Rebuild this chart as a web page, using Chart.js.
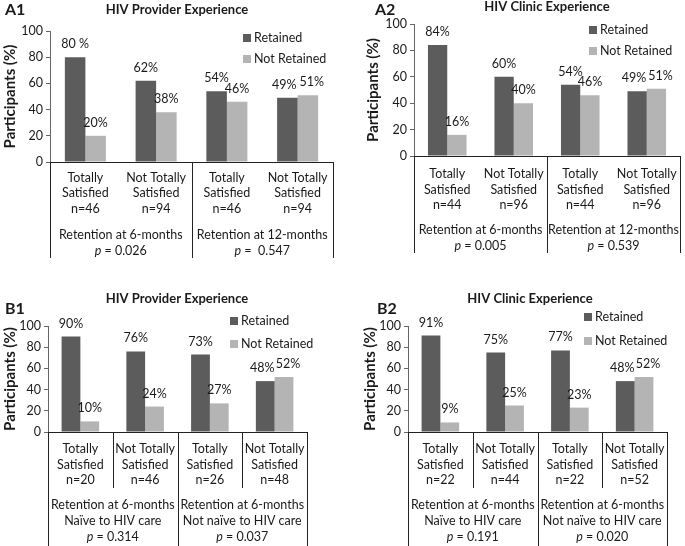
<!DOCTYPE html>
<html>
<head>
<meta charset="utf-8">
<script src="https://cdn.jsdelivr.net/npm/chart.js@4/dist/chart.umd.min.js"></script>
<style>
  body { margin: 0; background: #fff; width: 685px; height: 546px; position: relative; overflow: hidden; }
  canvas { position: absolute; }
</style>
</head>
<body>
<canvas id="a1" width="340" height="262" style="left:0;top:0"></canvas>
<canvas id="a2" width="345" height="262" style="left:340px;top:0"></canvas>
<canvas id="b1" width="340" height="276" style="left:0;top:270px"></canvas>
<canvas id="b2" width="345" height="276" style="left:340px;top:270px"></canvas>
<script>
// categorias y datos de cada panel
const categories = [['Totally', 'Satisfied'], ['Not Totally', 'Satisfied'], ['Totally', 'Satisfied'], ['Not Totally', 'Satisfied']];
const seriesNames = ['Retained', 'Not Retained'];
const yTicks = [0, 20, 40, 60, 80, 100];

const a1Retained = [80, 62, 54, 49];
const a1NotRetained = [20, 38, 46, 51];
const a1N = [46, 94, 46, 94];
const a1Groups = [['Retention at 6-months'], ['Retention at 12-months']];
const a1P = ['0.026', ' 0.547'];

const a2Retained = [84, 60, 54, 49];
const a2NotRetained = [16, 40, 46, 51];
const a2N = [44, 96, 44, 96];
const a2Groups = [['Retention at 6-months'], ['Retention at 12-months']];
const a2P = ['0.005', '0.539'];

const b1Retained = [90, 76, 73, 48];
const b1NotRetained = [10, 24, 27, 52];
const b1N = [20, 46, 26, 48];
const b1Groups = [['Retention at 6-months', 'Naïve to HIV care'], ['Retention at 6-months', 'Not naïve to HIV care']];
const b1P = ['0.314', '0.037'];

const b2Retained = [91, 75, 77, 48];
const b2NotRetained = [9, 25, 23, 52];
const b2N = [22, 44, 22, 52];
const b2Groups = [['Retention at 6-months', 'Naïve to HIV care'], ['Retention at 6-months', 'Not naïve to HIV care']];
const b2P = ['0.191', '0.020'];

const FONT = 'Lato';
const TEXT = '#1a1a1a';
const SIZE = 12.5;
const colors = ['#5c5c5c', '#b4b4b4'];

function drawPanel(id, p) {
    const canvas = document.getElementById(id);
    const W = canvas.width, H = canvas.height;

    const panelPlugin = {
        id: 'panel',
        afterDraw(chart) {
            const ctx = chart.ctx;
            const area = chart.chartArea;
            const xs = chart.scales.x;
            const normal = SIZE + 'px ' + FONT;
            ctx.save();
            ctx.fillStyle = TEXT;

            // titulo y letra del panel
            ctx.textBaseline = 'middle';
            ctx.textAlign = 'center';
            ctx.font = 'bold 13px ' + FONT;
            ctx.fillText(p.title, p.titleX, p.titleY);
            ctx.textAlign = 'left';
            ctx.font = 'bold 16px ' + FONT;
            ctx.fillText(p.tag, p.tagX, p.tagY);

            // leyenda
            ctx.font = normal;
            chart.data.datasets.forEach((ds, i) => {
                ctx.fillStyle = ds.backgroundColor;
                ctx.fillRect(p.legX, p.legY[i] - 4, 8, 8);
                ctx.fillStyle = TEXT;
                ctx.fillText(ds.label, p.legX + 11, p.legY[i]);
            });

            // etiquetas de porcentaje (las dos ultimas se separan un poco)
            ctx.textAlign = 'center';
            chart.data.datasets.forEach((ds, d) => {
                chart.getDatasetMeta(d).data.forEach((bar, i) => {
                    let txt = ds.data[i] + '%';
                    if (p.labelFix && p.labelFix[d] && p.labelFix[d][i]) txt = p.labelFix[d][i];
                    const dx = i === 3 ? (d === 0 ? -3 : 4) : 0;
                    ctx.fillText(txt, bar.x + dx, bar.y - 13);
                });
            });

            // tabla bajo el eje
            const mid = i => (xs.getPixelForValue(i) + xs.getPixelForValue(i + 1)) / 2;
            ctx.strokeStyle = '#222';
            ctx.lineWidth = 1;
            ctx.beginPath();
            ctx.moveTo(area.left, area.bottom + 0.5);
            ctx.lineTo(area.right, area.bottom + 0.5);
            [area.left, mid(1), area.right].forEach(x => {
                ctx.moveTo(Math.round(x) + 0.5, area.bottom);
                ctx.lineTo(Math.round(x) + 0.5, p.tableBottom);
            });
            if (p.innerBottom) {
                [mid(0), mid(2)].forEach(x => {
                    ctx.moveTo(Math.round(x) + 0.5, area.bottom);
                    ctx.lineTo(Math.round(x) + 0.5, p.innerBottom);
                });
            }
            ctx.stroke();

            ctx.font = normal;
            chart.data.labels.forEach((lab, i) => {
                const x = xs.getPixelForValue(i);
                const lines = lab.concat(['n=' + p.n[i]]);
                lines.forEach((t, k) => ctx.fillText(t, x, p.rows[k]));
            });
            p.groups.forEach((lines, g) => {
                const x = (xs.getPixelForValue(2 * g) + xs.getPixelForValue(2 * g + 1)) / 2;
                lines.forEach((t, k) => ctx.fillText(t, x, p.rows[3 + k]));
                // linea del valor p con la p en cursiva
                const y = p.rows[3 + lines.length];
                const rest = ' = ' + p.pvals[g];
                ctx.font = 'italic ' + normal;
                const w1 = ctx.measureText('p').width;
                ctx.font = normal;
                const w2 = ctx.measureText(rest).width;
                const x0 = x - (w1 + w2) / 2;
                ctx.textAlign = 'left';
                ctx.font = 'italic ' + normal;
                ctx.fillText('p', x0, y);
                ctx.font = normal;
                ctx.fillText(rest, x0 + w1, y);
                ctx.textAlign = 'center';
            });
            ctx.restore();
        }
    };

    new Chart(canvas, {
        type: 'bar',
        data: {
            labels: categories,
            datasets: [
                { label: seriesNames[0], data: p.retained, backgroundColor: colors[0] },
                { label: seriesNames[1], data: p.notRetained, backgroundColor: colors[1] }
            ]
        },
        options: {
            responsive: false,
            animation: false,
            categoryPercentage: 0.58,
            barPercentage: 1.0,
            layout: { padding: { left: 0, top: p.top, right: W - p.right, bottom: H - p.bottom } },
            scales: {
                x: { display: false },
                y: {
                    min: yTicks[0],
                    max: yTicks[yTicks.length - 1],
                    afterBuildTicks: scale => { scale.ticks = yTicks.map(v => ({ value: v })); },
                    ticks: { color: TEXT, font: { family: FONT, size: 12.5 }, padding: 3 },
                    grid: { drawOnChartArea: false, drawTicks: true, tickLength: 4, color: '#666' },
                    border: { color: '#666' },
                    title: {
                        display: true,
                        text: 'Participants (%)',
                        color: TEXT,
                        font: { family: FONT, size: 15, weight: 'bold' },
                        padding: { top: p.yTitlePad, bottom: 0 }
                    },
                    afterFit: scale => { scale.width = p.axisX; }
                }
            },
            plugins: { legend: { display: false }, tooltip: { enabled: false } }
        },
        plugins: [panelPlugin]
    });
}

drawPanel('a1', {
    retained: a1Retained, notRetained: a1NotRetained, n: a1N, groups: a1Groups, pvals: a1P,
    labelFix: [{ 0: '80 %' }],
    title: 'HIV Provider Experience', titleX: 177, titleY: 10, tag: 'A1', tagX: 5, tagY: 10,
    legX: 243, legY: [38, 59],
    axisX: 50, top: 31, bottom: 162, right: 333, yTitlePad: 1,
    tableBottom: 258, rows: [178, 193, 209, 235, 251]
});
drawPanel('a2', {
    retained: a2Retained, notRetained: a2NotRetained, n: a2N, groups: a2Groups, pvals: a2P,
    title: 'HIV Clinic Experience', titleX: 207, titleY: 7, tag: 'A2', tagX: 35, tagY: 10,
    legX: 249, legY: [30, 51],
    axisX: 74, top: 24, bottom: 156, right: 340, yTitlePad: 24,
    tableBottom: 253, rows: [174, 190, 205, 230, 246]
});
drawPanel('b1', {
    retained: b1Retained, notRetained: b1NotRetained, n: b1N, groups: b1Groups, pvals: b1P,
    title: 'HIV Provider Experience', titleX: 177, titleY: 29, tag: 'B1', tagX: 5, tagY: 39,
    legX: 230, legY: [51, 74],
    axisX: 48, top: 56, bottom: 162, right: 307, yTitlePad: 1,
    tableBottom: 276, innerBottom: 218, rows: [179, 195, 210, 235, 251, 267]
});
drawPanel('b2', {
    retained: b2Retained, notRetained: b2NotRetained, n: b2N, groups: b2Groups, pvals: b2P,
    title: 'HIV Clinic Experience', titleX: 190, titleY: 29, tag: 'B2', tagX: 37, tagY: 39,
    legX: 244, legY: [47, 71],
    axisX: 68, top: 56, bottom: 162, right: 327, yTitlePad: 21,
    tableBottom: 276, innerBottom: 218, rows: [179, 195, 210, 235, 251, 267]
});
</script>
</body>
</html>
